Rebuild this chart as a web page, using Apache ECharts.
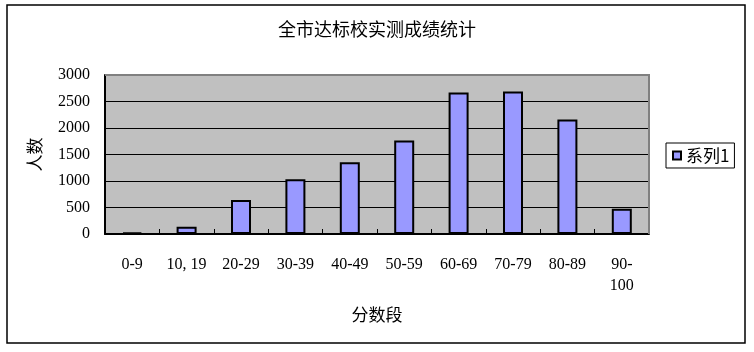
<!DOCTYPE html>
<html>
<head>
<meta charset="utf-8">
<script src="https://cdn.jsdelivr.net/npm/echarts@6/dist/echarts.min.js"></script>
<style>
  html, body { margin: 0; padding: 0; background: #fff; }
  #chart { width: 754px; height: 352px; }
</style>
</head>
<body>
<div id="chart"></div>
<script>
// 分数段 / 人数
var categories = ['0-9', '10, 19', '20-29', '30-39', '40-49', '50-59', '60-69', '70-79', '80-89', '90-\n100'];
var counts = [30, 135, 640, 1035, 1355, 1765, 2670, 2690, 2160, 475];
var yMax = 3000;
var yStep = 500;

var serif = "'Liberation Serif', 'Noto Sans CJK SC', serif";
var cjk = "'Noto Sans CJK SC', sans-serif";

var chart = echarts.init(document.getElementById('chart'));

var option = {
    backgroundColor: '#fff',
    animation: false,
    title: {
        text: '全市达标校实测成绩统计',
        left: 'center',
        top: 15,
        textStyle: {
            fontSize: 18,
            fontWeight: 'normal',
            color: '#000',
            fontFamily: cjk
        }
    },
    legend: {
        data: ['系列1'],
        left: 666,
        top: 143,
        orient: 'vertical',
        padding: [4, 5, 4, 6],
        borderColor: '#000',
        borderWidth: 1,
        itemWidth: 8,
        itemHeight: 8,
        itemGap: 4,
        icon: 'rect',
        textStyle: {
            fontSize: 17,
            color: '#000',
            fontFamily: cjk
        }
    },
    grid: {
        left: 105,
        top: 75,
        width: 544,
        height: 159,
        show: true,
        backgroundColor: '#c0c0c0',
        borderWidth: 0
    },
    graphic: [
        {
            // outer frame
            type: 'rect',
            shape: { x: 7, y: 5, width: 738, height: 338 },
            style: { fill: 'none', stroke: '#000', lineWidth: 1.5 },
            silent: true
        },
        {
            // top/right edge of plot area
            type: 'polyline',
            shape: { points: [[105, 75], [649, 75], [649, 234]] },
            style: { fill: 'none', stroke: '#808080', lineWidth: 2 },
            silent: true,
            z: 1
        }
    ],
    xAxis: {
        type: 'category',
        data: categories,
        name: '分数段',
        nameLocation: 'middle',
        nameGap: 72,
        nameTextStyle: { fontSize: 17, color: '#000', fontFamily: cjk },
        axisLine: { lineStyle: { color: '#000', width: 2 } },
        axisTick: { show: true, inside: true, length: 5, lineStyle: { color: '#000' } },
        axisLabel: {
            interval: 0,
            margin: 20,
            fontSize: 16,
            lineHeight: 21,
            color: '#000',
            fontFamily: serif
        }
    },
    yAxis: {
        type: 'value',
        min: 0,
        max: yMax,
        interval: yStep,
        name: '人数',
        nameLocation: 'middle',
        nameGap: 62,
        nameRotate: 90,
        nameTextStyle: { fontSize: 17, color: '#000', fontFamily: cjk },
        axisLine: { show: true, lineStyle: { color: '#000', width: 2 } },
        axisTick: { show: false },
        axisLabel: {
            margin: 15,
            fontSize: 16,
            color: '#000',
            fontFamily: serif,
            formatter: function (v) { return String(v); }
        },
        splitLine: { show: true, lineStyle: { color: '#000', width: 1 } }
    },
    series: [
        {
            name: '系列1',
            type: 'bar',
            data: counts,
            barWidth: 20,
            itemStyle: {
                color: '#9999ff',
                borderColor: '#000',
                borderWidth: 2
            }
        }
    ]
};

chart.setOption(option);
</script>
</body>
</html>
